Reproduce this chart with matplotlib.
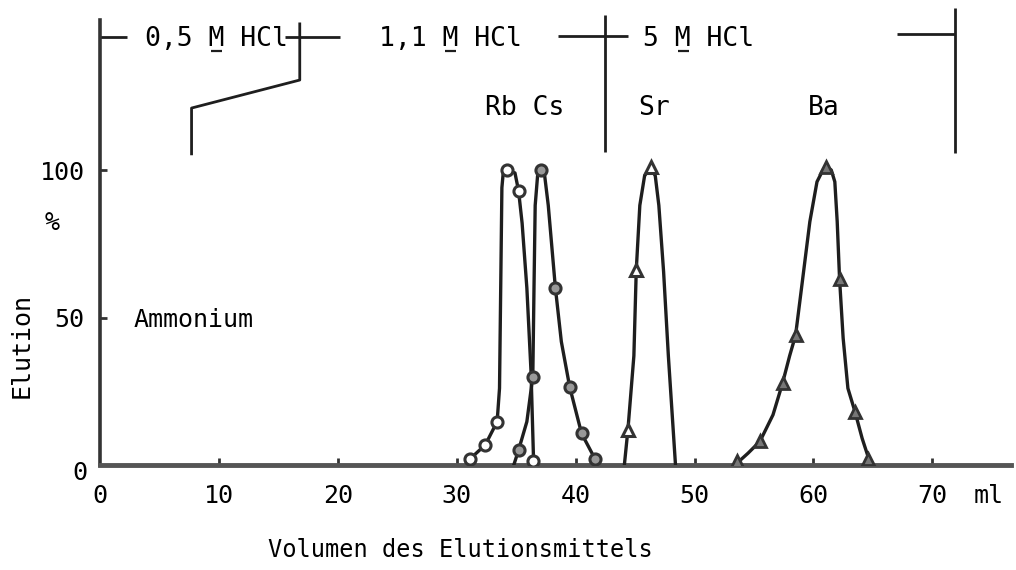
import matplotlib.pyplot as plt
import matplotlib as mpl
from matplotlib.transforms import ScaledTranslation

mpl.rcParams['font.family'] = 'DejaVu Sans Mono'

# curves (ml, % elution)
rb_x = [31.0, 31.1, 32.4, 33.4, 33.6, 33.7, 33.8, 33.9, 34.0, 34.2, 34.9, 35.2, 35.5, 35.9, 36.25, 36.45, 36.5]
rb_y = [0, 2, 6.8, 14.7, 26, 60, 94, 98.5, 100, 100, 99, 93, 82, 60, 31.6, 3.4, 0]
cs_x = [34.8, 35.2, 35.9, 36.4, 36.5, 36.6, 36.8, 37.1, 37.4, 37.7, 38.3, 38.8, 39.5, 40.5, 41.6, 41.8]
cs_y = [0, 5, 14.7, 30, 60, 88, 98, 100.5, 98, 88, 60, 41.8, 26.5, 10.7, 2.3, 0]
sr_x = [44.1, 44.4, 44.9, 45.1, 45.4, 45.8, 46.3, 46.7, 47.0, 47.4, 47.8, 48.4]
sr_y = [0, 12, 37, 66, 88, 98, 101, 98, 88, 65.5, 37, 0]
ba_x = [53.4, 54.5, 55.5, 56.6, 57.4, 58.0, 58.5, 59.0, 59.7, 60.3, 60.8, 61.1, 61.5, 61.8, 62.0, 62.2, 62.5, 62.9, 63.5, 64.1, 64.6, 64.8]
ba_y = [0, 4, 8, 17, 27.7, 37, 44, 60, 82.5, 96, 100, 101, 100, 96, 82.5, 63, 43, 26, 18, 9, 2.8, 0]

# measured points
rb_px = [31.1, 32.4, 33.4, 34.2, 35.2, 36.4]
rb_py = [2, 6.8, 14.7, 100, 93, 1.5]
cs_px = [35.2, 36.4, 37.1, 38.3, 39.5, 40.5, 41.6]
cs_py = [5, 30, 100, 60, 26.5, 10.7, 2]
sr_px = [44.4, 45.1, 46.3]
sr_py = [12, 66, 101]
ba_px = [53.6, 55.5, 57.4, 58.5, 61.1, 62.2, 63.5, 64.6]
ba_py = [1.5, 8, 27.7, 44, 101, 63, 18, 2]

x_ticks = [10, 20, 30, 40, 50, 60, 70]
y_ticks = [0, 50, 100]
eluents = ['0,5 M HCl', '1,1 M HCl', '5 M HCl']

ink = '#1e1e1e'
fs = 18

fig = plt.figure(figsize=(10.16, 5.70), dpi=100)
ax = fig.add_axes([100/1016, 105/570, 910.8/1016, 457.25/570])
ax.set_xlim(0, 76.6)
ax.set_ylim(0, 155)

for x, y in [(rb_x, rb_y), (cs_x, cs_y), (sr_x, sr_y), (ba_x, ba_y)]:
    ax.plot(x, y, color=ink, lw=2.4, solid_joinstyle='round', zorder=3)
ax.plot(rb_px, rb_py, 'o', ms=8, mfc='white', mec='#333333', mew=2.2, zorder=4)
ax.plot(cs_px, cs_py, 'o', ms=8, mfc='#999999', mec='#333333', mew=2.2, zorder=4)
ax.plot(sr_px, sr_py, '^', ms=9, mfc='white', mec='#333333', mew=2.2, zorder=4)
ax.plot(ba_px, ba_py, '^', ms=9, mfc='#777777', mec='#333333', mew=2.0, zorder=4)

# axes
for s in ['top', 'right']:
    ax.spines[s].set_visible(False)
ax.spines['left'].set_bounds(0, 151)
ax.spines['left'].set_linewidth(2.6)
ax.spines['left'].set_color('#333333')
ax.spines['bottom'].set_linewidth(3.5)
ax.spines['bottom'].set_color('#555555')

ax.set_xticks([0] + x_ticks)
ax.set_xticklabels(['0'] + [str(t) for t in x_ticks], fontsize=fs)
ax.tick_params(axis='x', direction='in', length=5, width=2, pad=14, color='#333333')
ax.set_yticks(y_ticks)
ax.set_yticklabels([str(t) for t in y_ticks], fontsize=fs)
ax.tick_params(axis='y', direction='in', length=5, width=2, pad=11, color='#333333')
ax.xaxis.get_major_ticks()[0].tick1line.set_visible(False)
ax.yaxis.get_major_ticks()[0].tick1line.set_visible(False)
lab0 = ax.yaxis.get_major_ticks()[0].label1
lab0.set_transform(lab0.get_transform() + ScaledTranslation(0.03, -0.05, fig.dpi_scale_trans))

ax.text(76.0, 0, 'ml', fontsize=fs, ha='right', va='top',
        transform=ax.transData + ScaledTranslation(0, -0.19, fig.dpi_scale_trans))
ax.text(-4.0, 82, '%', fontsize=fs, ha='center', va='center', clip_on=False)
fig.text(22/1016, 1 - 345/570, 'Elution', fontsize=fs, rotation=90, ha='center', va='center')
fig.text(460/1016, 1 - 550/570, 'Volumen des Elutionsmittels', fontsize=17, ha='center', va='center')
ax.text(2.8, 49, 'Ammonium', fontsize=fs, ha='left', va='center')

# eluent brackets across the top
br = dict(color=ink, lw=2.0, clip_on=False, solid_capstyle='butt')
ax.plot([0, 2.3], [145, 145], **br)
ax.plot([15.6, 20.2], [145, 145], **br)
ax.plot([16.8, 16.8, 7.7, 7.7], [150, 130.5, 121, 105], **br)
ax.plot([38.5, 44.4], [145.5, 145.5], **br)
ax.plot([42.5, 42.5], [152.5, 106], **br)
ax.plot([67.0, 71.9], [146, 146], **br)
ax.plot([71.9, 71.9], [155, 105.8], **br)

# eluent labels, with the molar "M" underlined (monospace advance)
fs_top = 19
adv = 0.602 * fs_top * 100 / 72 / 11.89
for x0, lab in zip([3.8, 23.5, 45.7], eluents):
    ax.text(x0, 142, lab, fontsize=fs_top, ha='left', va='baseline', clip_on=False)
    i = lab.index('M')
    ax.plot([x0 + (i + 0.15) * adv, x0 + (i + 0.85) * adv], [140.4, 140.4],
            color=ink, lw=1.6, clip_on=False, solid_capstyle='butt')

ax.text(32.4, 121, 'Rb Cs', fontsize=fs_top, ha='left', va='center')
ax.text(45.3, 121, 'Sr', fontsize=fs_top, ha='left', va='center')
ax.text(59.5, 121, 'Ba', fontsize=fs_top, ha='left', va='center')

fig.savefig('out.png', dpi=100)
